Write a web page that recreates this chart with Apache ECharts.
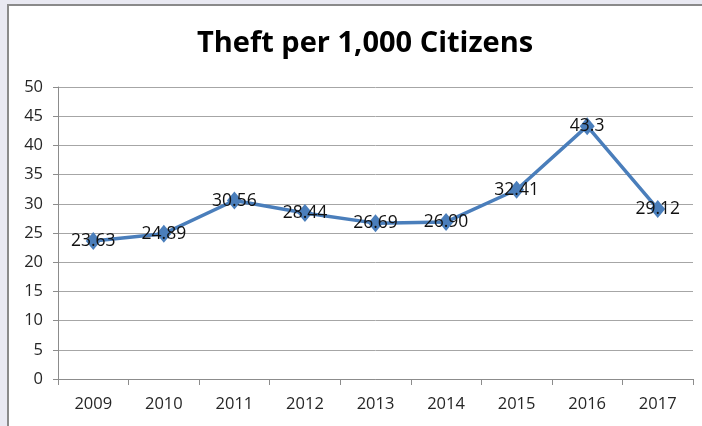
<!DOCTYPE html>
<html>
<head>
<meta charset="utf-8">
<script src="https://cdn.jsdelivr.net/npm/echarts@6/dist/echarts.min.js"></script>
<style>
  html, body { margin: 0; padding: 0; }
  body { width: 702px; height: 426px; background: #e9e9f2; position: relative; overflow: hidden; }
  #panel { position: absolute; left: 7px; top: 4px; width: 720px; height: 440px;
           background: #ffffff; border-left: 2px solid #8a8a8a; border-top: 2px solid #8a8a8a; }
  #chart { position: absolute; left: 0; top: 0; width: 702px; height: 426px; }
</style>
</head>
<body>
<div id="panel"></div>
<div id="chart"></div>
<script>
// Years on the category axis
const years = ['2009', '2010', '2011', '2012', '2013', '2014', '2015', '2016', '2017'];
// Thefts per 1,000 citizens, as printed on each point
const valueLabels = ['23.63', '24.89', '30.56', '28.44', '26.69', '26.90', '32.41', '43.3', '29.12'];
const theftRate = valueLabels.map(Number);
// Value axis range
const yMin = 0, yMax = 50, yStep = 5;

const fontFamily = '"Open Sans", "Noto Sans", sans-serif';
const chart = echarts.init(document.getElementById('chart'), null, { renderer: 'canvas' });

chart.setOption({
  backgroundColor: 'transparent',
  animation: false,
  title: {
    text: 'Theft per 1,000 Citizens',
    left: 192,
    top: 24,
    textStyle: { fontFamily: fontFamily, fontWeight: 'bold', fontSize: 29, color: '#000000' }
  },
  grid: { left: 58, right: 9, top: 87, bottom: 47, containLabel: false },
  xAxis: {
    type: 'category',
    data: years,
    boundaryGap: true,
    axisLine: { lineStyle: { color: '#8c8c8c', width: 1 } },
    axisTick: { show: true, length: 6, lineStyle: { color: '#8c8c8c' } },
    axisLabel: { fontFamily: fontFamily, fontSize: 16.5, color: '#262626', margin: 17 }
  },
  yAxis: {
    type: 'value',
    min: yMin,
    max: yMax,
    interval: yStep,
    axisLine: { show: true, lineStyle: { color: '#8c8c8c', width: 1 } },
    axisTick: { show: true, length: 5, lineStyle: { color: '#8c8c8c' } },
    axisLabel: { fontFamily: fontFamily, fontSize: 16.5, color: '#262626', margin: 15 },
    splitLine: { show: true, lineStyle: { color: '#a6a6a6', width: 1 } }
  },
  series: [{
    type: 'line',
    data: theftRate,
    symbol: 'diamond',
    symbolSize: [15, 18],
    lineStyle: { color: '#4a7ebb', width: 3.5 },
    itemStyle: { color: '#4a7ebb' },
    label: {
      show: true,
      position: 'inside',
      formatter: p => valueLabels[p.dataIndex],
      fontFamily: fontFamily,
      fontSize: 17.5,
      color: '#111111'
    }
  }]
});
</script>
</body>
</html>
